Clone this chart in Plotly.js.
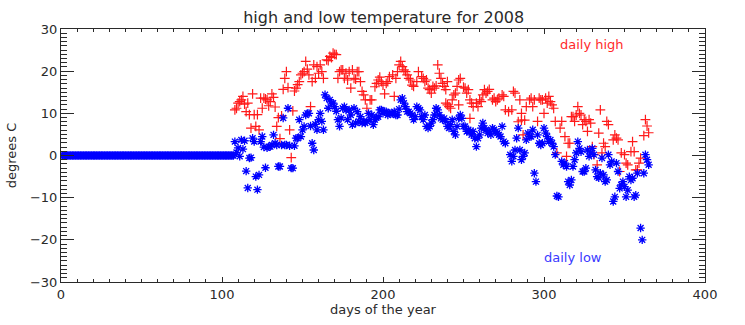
<!DOCTYPE html>
<html>
<head>
<meta charset="utf-8">
<script src="https://cdn.plot.ly/plotly-3.0.1.min.js"></script>
<style>
html,body{margin:0;padding:0;background:#fff;}
#chart{width:745px;height:325px;}
</style>
</head>
<body>
<div id="chart"></div>
<script>
// Days 1-107: no data recorded (plotted as zero)
const earlyDays = [1,2,3,4,5,6,7,8,9,10,11,12,13,14,15,16,17,18,19,20,
21,22,23,24,25,26,27,28,29,30,31,32,33,34,35,36,37,38,39,40,
41,42,43,44,45,46,47,48,49,50,51,52,53,54,55,56,57,58,59,60,
61,62,63,64,65,66,67,68,69,70,71,72,73,74,75,76,77,78,79,80,
81,82,83,84,85,86,87,88,89,90,91,92,93,94,95,96,97,98,99,100,
101,102,103,104,105,106,107];
const earlyTemps = [0,0,0,0,0,0,0,0,0,0,0,0,0,0,0,0,0,0,0,0,
0,0,0,0,0,0,0,0,0,0,0,0,0,0,0,0,0,0,0,0,
0,0,0,0,0,0,0,0,0,0,0,0,0,0,0,0,0,0,0,0,
0,0,0,0,0,0,0,0,0,0,0,0,0,0,0,0,0,0,0,0,
0,0,0,0,0,0,0,0,0,0,0,0,0,0,0,0,0,0,0,0,
0,0,0,0,0,0,0];

const highDays = [108,109,110,111,112,113,114,115,116,117,118,119,120,121,122,123,124,125,126,127,
128,129,130,131,132,133,134,135,136,137,138,139,140,141,142,143,144,145,146,147,
148,149,150,151,152,153,154,155,156,157,158,159,160,161,162,163,165,166,167,168,
169,170,171,172,173,174,175,176,177,178,179,180,181,182,183,184,185,186,187,188,
189,190,192,193,195,196,197,198,199,200,201,202,203,204,206,207,208,209,210,211,
212,213,214,215,216,217,218,219,221,222,224,225,226,227,228,229,230,231,232,233,
234,235,236,237,238,239,240,239,240,241,242,243,244,245,246,247,248,247,250,251,
252,253,254,254,255,256,258,259,260,261,262,263,264,265,266,268,269,270,271,272,
274,275,276,278,280,281,282,284,285,286,286,287,288,289,291,292,293,294,296,297,
298,299,300,301,302,303,304,305,306,307,308,310,311,313,314,315,316,317,318,319,
320,321,322,323,324,325,326,327,328,329,330,331,333,334,335,336,337,338,339,340,
343,344,345,346,347,348,350,351,352,354,355,356,357,358,359,360,362,363,364,365];
const highTemps = [10.8,11.2,12.4,12.8,13.2,14.0,12.2,10.4,12.4,9.7,6.5,14.6,9.7,6.9,9.7,6.1,13.6,11.2,13.6,13.4,
13.2,11.8,12.8,14.6,13.8,11.5,6.9,9.0,4.0,9.4,15.7,18.3,19.9,16.1,6.1,-0.5,10.6,15.3,16.0,16.8,
17.5,19.1,19.5,19.9,22.3,20.5,19.1,11.6,17.5,21.5,18.3,21.1,19.5,21.5,19.9,18.3,22.7,22.5,23.5,23.2,
24.3,24.0,23.9,18.3,19.9,20.3,20.3,18.3,19.5,17.9,19.9,16.0,20.3,18.3,18.1,19.9,19.9,17.5,15.2,14.4,
13.2,11.2,13.2,13.2,16.3,17.1,17.9,18.6,17.5,16.7,14.6,17.1,17.5,18.7,19.1,14.0,18.3,19.9,21.5,22.3,
21.1,20.3,19.9,19.1,18.3,17.9,16.7,16.4,17.5,19.9,18.7,18.3,17.5,17.9,16.0,15.6,14.8,16.4,16.0,16.5,
21.5,19.5,18.3,17.1,16.4,15.6,17.5,12.4,12.0,11.6,11.2,13.2,14.4,14.8,16.4,17.9,18.3,12.0,16.2,16.0,
14.8,15.6,13.2,8.8,12.4,11.6,12.4,11.6,13.2,12.8,14.4,15.6,14.8,15.2,15.7,13.2,13.6,12.8,13.2,13.6,
14.4,14.0,10.8,10.4,10.8,15.2,14.8,8.0,13.2,10.0,8.4,4.9,8.4,11.6,13.2,13.6,11.6,13.2,8.1,13.6,
13.2,13.2,10.0,13.6,12.4,14.0,12.8,12.0,11.2,8.1,0.6,6.5,8.1,4.5,-0.2,2.9,2.9,9.2,9.2,8.1,
9.6,11.6,10.0,9.6,7.3,8.5,8.1,5.7,8.5,7.7,2.1,0.2,-2.2,5.3,10.8,0.6,2.9,2.1,8.1,7.3,
3.7,4.9,4.1,3.7,-3.8,0.6,0.2,-1.8,-2.2,0.9,3.3,0.9,-3.4,-3.4,-1.8,-0.6,4.7,8.5,7.0,5.4];

const lowDays = [108,109,110,111,112,113,114,115,116,117,118,119,120,121,122,123,124,125,126,127,
128,129,130,131,132,133,134,135,136,137,138,139,140,141,142,143,144,145,146,147,
148,149,150,151,152,153,154,155,156,157,158,159,160,161,162,163,164,165,166,167,
168,169,170,171,172,173,174,175,176,177,178,179,180,181,182,183,184,185,186,187,
188,189,190,191,192,193,194,195,196,197,198,199,200,201,202,203,204,205,206,207,
208,209,210,211,212,213,214,215,216,217,218,219,220,221,222,223,224,225,226,227,
228,229,230,231,232,233,234,235,236,237,238,239,240,241,242,243,244,245,246,247,
248,249,250,251,252,253,254,255,256,257,258,259,260,261,262,263,264,265,266,267,
268,269,270,271,272,273,274,275,276,279,280,281,282,283,284,285,286,287,288,289,
290,291,292,293,294,295,296,297,298,299,300,301,302,303,304,305,306,307,308,309,
311,312,313,314,315,316,317,318,319,320,321,322,323,324,325,326,327,328,329,330,
331,332,333,334,335,336,337,338,339,340,341,342,343,344,345,346,347,348,349,350,
351,352,353,354,355,356,357,358,360,361,362,363,364,365];
const lowTemps = [3.3,0.7,1.8,-0.2,3.7,1.5,3.5,-3.7,-7.7,-0.6,-0.5,4.1,3.3,-5.0,-8.1,-4.6,3.3,4.5,2.0,-2.9,
1.8,2.1,2.1,2.5,4.9,2.9,2.5,-2.6,-2.6,2.5,8.9,2.5,2.5,11.2,2.3,-3.0,-3.0,2.3,4.1,4.1,
8.5,4.5,6.1,6.9,9.6,10.0,10.0,7.0,2.9,1.3,7.4,6.1,8.5,10.0,8.1,6.1,14.4,13.6,11.2,13.2,
12.4,12.4,11.6,10.5,8.5,6.9,8.9,11.2,11.6,10.8,8.5,10.8,9.6,7.3,11.2,7.7,10.4,8.1,9.2,7.7,
8.1,7.7,8.1,10.0,8.5,9.6,7.3,8.5,9.0,9.2,10.8,10.8,10.0,10.4,10.4,9.6,10.0,10.0,10.0,10.4,
9.6,9.6,11.0,13.2,13.6,12.4,11.6,10.4,10.4,10.0,9.6,8.5,9.2,11.6,11.2,10.8,9.2,8.5,9.6,6.9,
6.5,6.9,7.7,8.5,9.6,11.2,10.8,9.6,8.8,8.5,8.8,8.1,6.9,6.5,7.3,8.5,5.7,4.9,6.9,8.8,
9.6,8.8,6.9,6.9,5.7,6.1,5.7,4.9,5.7,4.1,2.1,4.1,4.9,6.5,7.7,6.5,6.1,5.3,5.7,4.9,
6.5,6.1,5.7,5.3,4.9,4.5,6.9,3.3,2.9,0.2,-1.4,-0.2,1.3,4.1,6.5,1.3,-1.0,-0.2,0.6,3.7,
5.3,4.5,4.5,6.1,-4.2,-6.2,4.9,2.9,2.5,2.9,6.5,5.3,4.5,3.3,3.7,2.9,2.1,0.2,-9.6,-9.8,
-1.4,-2.2,-1.8,-2.6,-6.2,-7.0,-5.8,-2.6,-1.0,0.6,3.3,1.7,0.9,-3.8,-3.8,-3.0,1.3,-0.2,0.6,1.7,
0.2,-3.4,-5.0,-5.3,-4.2,-0.6,-4.6,-6.2,-5.8,0.2,-2.2,-1.4,-10.9,-9.8,-1.8,-3.8,-7.8,-7.0,-6.2,-7.4,
-9.8,-8.2,-5.0,-5.8,-5.4,-9.8,-9.4,-4.2,-17.2,-20.0,-4.2,0.2,-1.0,-2.2];

const chartTitle = 'high and low temperature for 2008';
const xLabel = 'days of the year';
const yLabel = 'degrees C';
const highLabel = 'daily high';
const lowLabel = 'daily low';

const font = 'DejaVu Sans, sans-serif';
const ink = '#2a2a2a';

const traces = [
  {
    // early zero highs lie underneath the low markers, as in the original
    x: highDays, y: highTemps,
    type: 'scatter', mode: 'markers', name: highLabel, hoverinfo: 'x+y',
    marker: {symbol: 'cross-thin-open', size: 7, color: '#ff1a1a', line: {color: '#ff1a1a', width: 1.2}}
  },
  {
    x: earlyDays, y: earlyTemps,
    type: 'scatter', mode: 'markers', name: lowLabel + ' (no data)', hoverinfo: 'x+y',
    marker: {symbol: 'asterisk-open', size: 7, color: '#0000ff', line: {color: '#0000ff', width: 1.6}}
  },
  {
    x: lowDays, y: lowTemps,
    type: 'scatter', mode: 'markers', name: lowLabel, hoverinfo: 'x+y',
    marker: {symbol: 'asterisk-open', size: 7, color: '#0000ff', line: {color: '#0000ff', width: 1.3}}
  }
];

const axisCommon = {
  showgrid: false, zeroline: false, showline: true, linecolor: ink, linewidth: 1,
  mirror: 'ticks', ticks: 'inside', tickcolor: ink, tickwidth: 1,
  tickfont: {family: font, size: 13, color: ink}
};

const layout = {
  width: 745, height: 325,
  margin: {l: 61, r: 40, t: 29, b: 43},
  paper_bgcolor: '#fff', plot_bgcolor: '#fff',
  showlegend: false,
  title: {text: chartTitle, font: {family: font, size: 16, color: ink}, x: 0.515, xanchor: 'center', y: 0.945, yanchor: 'middle'},
  xaxis: Object.assign({}, axisCommon, {
    range: [0, 400], dtick: 100, tick0: 0, ticklen: 5,
    minor: {dtick: 10, ticklen: 3, ticks: 'inside', tickcolor: ink},
    title: {text: xLabel, font: {family: font, size: 13, color: ink}, standoff: 4}
  }),
  yaxis: Object.assign({}, axisCommon, {
    range: [-30, 30], dtick: 10, tick0: 0, ticklen: 13,
    minor: {dtick: 1, ticklen: 6, ticks: 'inside', tickcolor: ink},
    title: {text: yLabel, font: {family: font, size: 13, color: ink}, standoff: 10}
  }),
  annotations: [
    {x: 330, y: 26.3, xref: 'x', yref: 'y', text: highLabel, showarrow: false,
     font: {family: font, size: 13, color: '#ff2a2a'}},
    {x: 318, y: -24.3, xref: 'x', yref: 'y', text: lowLabel, showarrow: false,
     font: {family: font, size: 13, color: '#3a3aff'}}
  ]
};

Plotly.newPlot('chart', traces, layout, {staticPlot: true, displayModeBar: false});
</script>
</body>
</html>
